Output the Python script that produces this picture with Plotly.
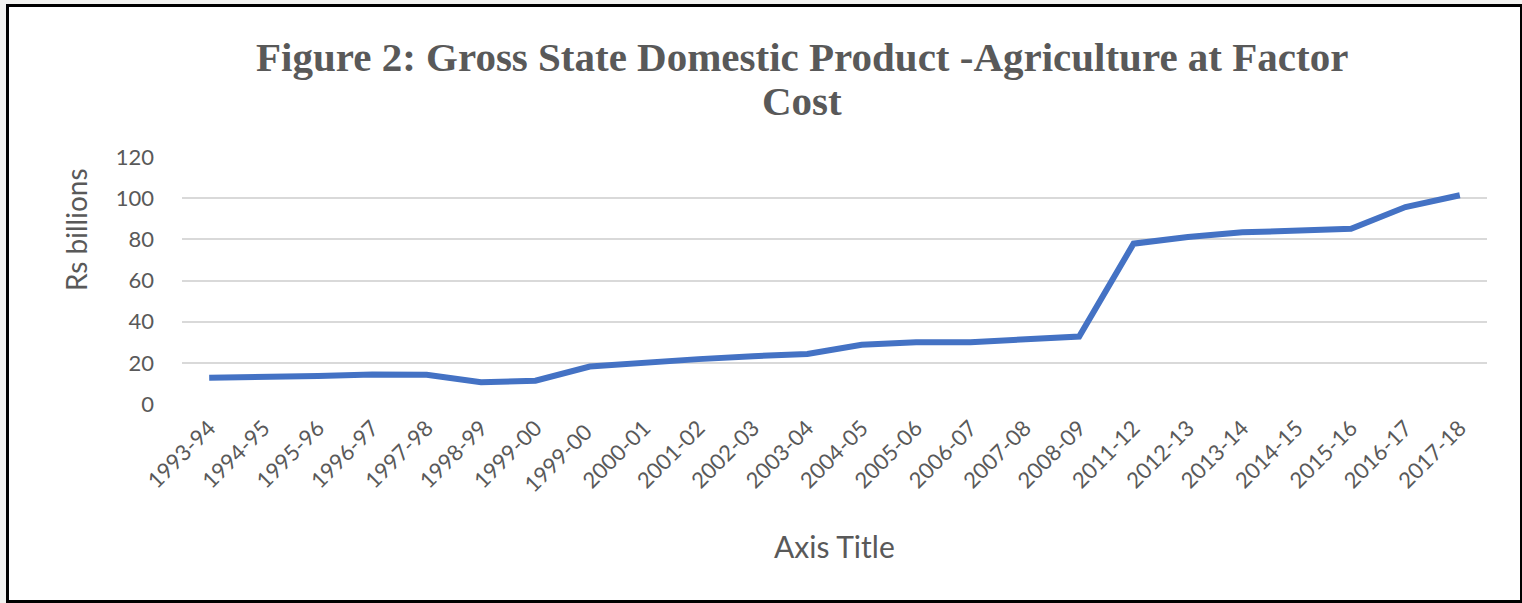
import plotly.graph_objects as go

years = ["1993-94", "1994-95", "1995-96", "1996-97", "1997-98", "1998-99", "1999-00",
         "1999-00 ", "2000-01", "2001-02", "2002-03", "2003-04", "2004-05", "2005-06",
         "2006-07", "2007-08", "2008-09", "2011-12", "2012-13", "2013-14", "2014-15",
         "2015-16", "2016-17", "2017-18"]
gsdp_agri = [12.8, 12.9, 13.6, 14.3, 14.2, 10.6, 11.3, 18.2, 20.2, 21.8, 23.2, 24.3,
             28.8, 30.0, 30.0, 31.3, 32.8, 77.9, 81.1, 83.4, 84.3, 85.1, 95.7, 101.4]
y_ticks = [0, 20, 40, 60, 80, 100, 120]

W, H = 1522, 603
L, R, T, B = 182, 35, 157, 199
pw, ph = W - L - R, H - T - B

def px(x):
    return (x - L) / pw

def py(y):
    return (H - B - y) / ph

grey = "#595959"
fig = go.Figure()
fig.add_trace(go.Scatter(x=years, y=gsdp_agri, mode="lines",
                         line=dict(color="#4472C4", width=6), showlegend=False))

fig.update_layout(
    width=W, height=H,
    margin=dict(l=L, r=R, t=T, b=B),
    paper_bgcolor="white", plot_bgcolor="white",
    font=dict(family="Lato, Open Sans, sans-serif", color=grey),
    xaxis=dict(type="category", tickangle=-45, tickfont=dict(size=22, color=grey),
               showgrid=False, showline=False, zeroline=False, ticks="",
               ticklabelstandoff=6, range=[-0.5, len(years) - 0.5]),
    yaxis=dict(range=[0, 120], tickvals=y_ticks, tickfont=dict(size=22, color=grey),
               showgrid=True, gridcolor="#d9d9d9", gridwidth=2, zeroline=False,
               showline=False, ticks="", ticklabelstandoff=27),
    annotations=[
        dict(text="<b>Figure 2: Gross State Domestic Product -Agriculture at Factor</b>",
             x=px(802), y=py(57), xref="paper", yref="paper", showarrow=False,
             xanchor="center", yanchor="middle",
             font=dict(family="Liberation Serif, Times New Roman, serif", size=41, color=grey)),
        dict(text="<b>Cost</b>",
             x=px(802), y=py(101), xref="paper", yref="paper", showarrow=False,
             xanchor="center", yanchor="middle",
             font=dict(family="Liberation Serif, Times New Roman, serif", size=41, color=grey)),
        dict(text="Rs billions", x=px(76), y=py(230), xref="paper", yref="paper",
             showarrow=False, textangle=-90, xanchor="center", yanchor="middle",
             font=dict(size=28, color=grey)),
        dict(text="Axis Title", x=px(834), y=py(546), xref="paper", yref="paper",
             showarrow=False, xanchor="center", yanchor="middle",
             font=dict(size=30, color=grey)),
    ],
    shapes=[
        dict(type="rect", xref="paper", yref="paper", x0=px(0), x1=px(W), y0=py(0), y1=py(4),
             fillcolor="#f2f2f0", line=dict(width=0), layer="below"),
        dict(type="rect", xref="paper", yref="paper", x0=px(0), x1=px(6), y0=py(0), y1=py(H),
             fillcolor="#f2f2f0", line=dict(width=0), layer="below"),
        dict(type="rect", xref="paper", yref="paper", x0=px(7.5), x1=px(1521.5),
             y0=py(601.5), y1=py(5.5), line=dict(color="black", width=3),
             fillcolor="rgba(0,0,0,0)"),
    ],
)

fig.write_html("out.html")
